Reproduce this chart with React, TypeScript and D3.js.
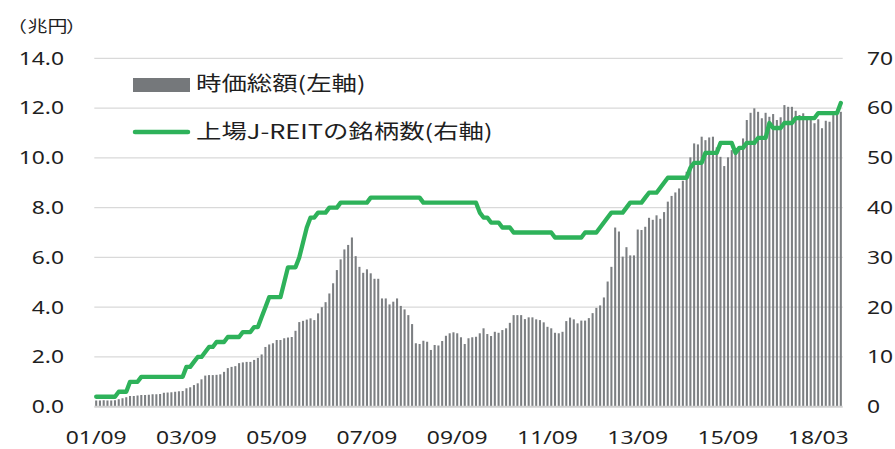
import React from 'react';
import * as d3 from 'd3';

// 時価総額 (兆円), monthly 2001/09 - 2018/03
const marketCap = [
  0.25, 0.25, 0.26, 0.25, 0.25, 0.26, 0.30, 0.34, 0.38, 0.43,
  0.43, 0.45, 0.47, 0.47, 0.48, 0.50, 0.50, 0.51, 0.56, 0.57,
  0.58, 0.60, 0.62, 0.63, 0.74, 0.78, 0.87, 0.94, 1.10, 1.25,
  1.27, 1.27, 1.28, 1.30, 1.40, 1.55, 1.60, 1.63, 1.75, 1.78,
  1.80, 1.80, 1.88, 1.96, 2.10, 2.40, 2.50, 2.55, 2.68, 2.68,
  2.75, 2.78, 2.80, 3.05, 3.40, 3.45, 3.50, 3.55, 3.48, 3.75,
  4.00, 4.20, 4.55, 4.96, 5.49, 5.92, 6.32, 6.50, 6.80, 6.05,
  5.62, 5.38, 5.52, 5.36, 5.14, 5.14, 4.35, 4.35, 4.11, 4.22,
  4.35, 4.05, 3.91, 3.68, 3.32, 2.55, 2.52, 2.65, 2.61, 2.28,
  2.48, 2.46, 2.64, 2.85, 2.95, 2.99, 2.95, 2.79, 2.52, 2.75,
  2.79, 2.81, 2.95, 3.15, 2.92, 2.84, 3.01, 2.97, 3.08, 3.15,
  3.37, 3.68, 3.68, 3.68, 3.52, 3.59, 3.59, 3.51, 3.48, 3.39,
  3.21, 3.15, 2.97, 2.95, 3.01, 3.44, 3.58, 3.51, 3.35, 3.46,
  3.46, 3.56, 3.76, 3.97, 4.07, 4.39, 5.03, 5.62, 7.20, 7.04,
  6.03, 6.41, 6.08, 6.08, 7.12, 7.10, 7.23, 7.59, 7.51, 7.69,
  7.55, 7.82, 8.24, 8.47, 8.61, 8.77, 9.08, 9.44, 10.02, 10.58,
  10.54, 10.85, 10.71, 10.82, 10.85, 10.42, 10.04, 9.67, 10.02, 10.31,
  10.38, 10.42, 10.78, 11.52, 11.81, 11.99, 11.85, 11.59, 11.81, 11.65,
  11.76, 11.52, 11.63, 12.12, 12.05, 12.05, 11.89, 11.72, 11.79, 11.65,
  11.59, 11.39, 11.55, 11.19, 11.49, 11.45, 11.72, 11.85, 11.85,
];

// 上場J-REITの銘柄数
const reitCount = [
  2, 2, 2, 2, 2, 2, 3, 3, 3, 5,
  5, 5, 6, 6, 6, 6, 6, 6, 6, 6,
  6, 6, 6, 6, 8, 8, 9, 10, 10, 11,
  12, 12, 13, 13, 13, 14, 14, 14, 14, 15,
  15, 15, 16, 16, 18, 20, 22, 22, 22, 22,
  25, 28, 28, 28, 30, 33, 36, 38, 38, 39,
  39, 39, 40, 40, 40, 41, 41, 41, 41, 41,
  41, 41, 41, 42, 42, 42, 42, 42, 42, 42,
  42, 42, 42, 42, 42, 42, 42, 41, 41, 41,
  41, 41, 41, 41, 41, 41, 41, 41, 41, 41,
  41, 41, 39, 38, 38, 37, 37, 37, 36, 36,
  36, 35, 35, 35, 35, 35, 35, 35, 35, 35,
  35, 35, 34, 34, 34, 34, 34, 34, 34, 34,
  35, 35, 35, 35, 36, 37, 38, 39, 39, 39,
  39, 40, 41, 41, 41, 41, 42, 43, 43, 43,
  44, 45, 46, 46, 46, 46, 46, 46, 48, 49,
  49, 49, 51, 51, 51, 51, 53, 53, 53, 53,
  51, 52, 52, 53, 53, 53, 54, 54, 54, 57,
  56, 56, 56, 57, 57, 57, 58, 58, 58, 58,
  58, 58, 59, 59, 59, 59, 59, 59, 61,
];

const leftTicks = [0, 2, 4, 6, 8, 10, 12, 14];
const rightTicks = [0, 10, 20, 30, 40, 50, 60, 70];
const xTickLabels = ['01/09', '03/09', '05/09', '07/09', '09/09', '11/09', '13/09', '15/09', '18/03'];

const legendBar = '時価総額(左軸)';
const legendLine = '上場J-REITの銘柄数(右軸)';
const unitOpen = '（';
const unitText = '兆円';
const unitClose = '）';

const SX = 1.27;
const NUM_FONT = '"Noto Sans", "DejaVu Sans", sans-serif';
const CJK_FONT = '"Noto Sans CJK JP", "Noto Sans", sans-serif';
const TEXT = '#1f1f1f';
const BAR = '#7c7f82';
const GREEN = '#2eb25a';

export default function App() {
  const W = 895;
  const H = 449;
  const plotL = 94.3;
  const plotR = 842.7;
  const plotT = 58.3;
  const plotB = 406.7;

  const idx = d3.range(marketCap.length);
  const x = d3.scaleBand<number>().domain(idx).range([plotL, plotR]).paddingInner(0.45).paddingOuter(0.225);
  const bw = x.bandwidth();
  const yL = d3.scaleLinear().domain([0, 14]).range([plotB, plotT]);
  const yR = d3.scaleLinear().domain([0, 70]).range([plotB, plotT]);

  const line = d3
    .line<number>()
    .x((_, i) => (x(i) as number) + bw / 2)
    .y((d) => yR(d));

  const tickStep = 24;

  const stretched = (tx: number, ty: number) => `translate(${tx},${ty}) scale(${SX},1)`;

  return (
    <svg
      width={W}
      height={H}
      viewBox={`0 0 ${W} ${H}`}
      style={{ position: 'absolute', left: 0, top: 0, background: '#fff' }}
    >
      <rect x={0} y={0} width={W} height={H} fill="#fff" />
      {/* gridlines */}
      {leftTicks
        .filter((t) => t > 0)
        .map((t) => (
          <line key={`g${t}`} x1={plotL} x2={plotR} y1={yL(t)} y2={yL(t)} stroke="#d9d9d9" strokeWidth={1.3} />
        ))}
      {/* bars */}
      {marketCap.map((v, i) => (
        <rect key={`b${i}`} x={x(i)} y={yL(v)} width={bw} height={plotB - yL(v)} fill={BAR} />
      ))}
      {/* baseline */}
      <line x1={plotL} x2={plotR} y1={plotB} y2={plotB} stroke="#d0d0d0" strokeWidth={2} />
      {/* line series */}
      <path
        d={line(reitCount) || ''}
        fill="none"
        stroke={GREEN}
        strokeWidth={4.3}
        strokeLinejoin="round"
        strokeLinecap="round"
      />
      {/* left axis labels */}
      {leftTicks.map((t) => (
        <text
          key={`l${t}`}
          transform={stretched(64, yL(t) + 6.4)}
          textAnchor="end"
          fontFamily={NUM_FONT}
          fontSize={18}
          fill={TEXT}
        >
          {d3.format('.1f')(t)}
        </text>
      ))}
      {/* right axis labels */}
      {rightTicks.map((t) => (
        <text
          key={`r${t}`}
          transform={stretched(867, yR(t) + 6.4)}
          textAnchor="start"
          fontFamily={NUM_FONT}
          fontSize={18}
          fill={TEXT}
        >
          {t}
        </text>
      ))}
      {/* x axis labels */}
      {xTickLabels.map((lab, k) => {
        const i = k * tickStep;
        return (
          <text
            key={`x${lab}`}
            transform={stretched((x(i) as number) + bw / 2, 444)}
            textAnchor="middle"
            fontFamily={NUM_FONT}
            fontSize={18}
            fill={TEXT}
          >
            {lab}
          </text>
        );
      })}
      {/* unit */}
      <text transform={stretched(27, 32)} textAnchor="end" fontFamily={CJK_FONT} fontSize={15.7} fill={TEXT}>
        {unitOpen}
      </text>
      <text transform={stretched(27.5, 32)} fontFamily={CJK_FONT} fontSize={15.7} fill={TEXT}>
        {unitText}
      </text>
      <text transform={stretched(66, 32)} fontFamily={CJK_FONT} fontSize={15.7} fill={TEXT}>
        {unitClose}
      </text>
      {/* legend */}
      <rect x={133} y={78} width={57} height={14} fill="#75787b" />
      <text transform={stretched(196, 90.5)} fontFamily={CJK_FONT} fontSize={20} fill={TEXT}>
        {legendBar}
      </text>
      <line x1={135} x2={188} y1={132} y2={132} stroke={GREEN} strokeWidth={4.5} strokeLinecap="round" />
      <text transform={stretched(196, 139)} fontFamily={CJK_FONT} fontSize={20} fill={TEXT}>
        {legendLine}
      </text>
    </svg>
  );
}
